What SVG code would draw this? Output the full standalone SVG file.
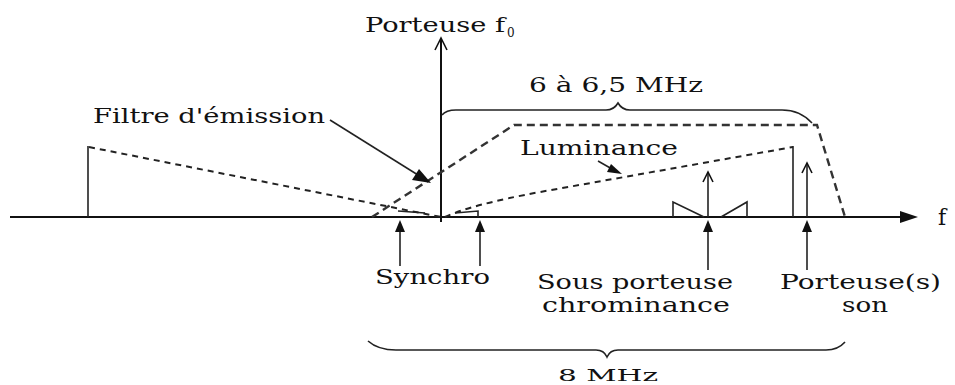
<svg xmlns="http://www.w3.org/2000/svg" width="955" height="385" viewBox="0 0 955 385">
<style>
.t{font-family:"DejaVu Serif","Liberation Serif",serif;font-size:20px;fill:#111;}
.ln{stroke:#111;stroke-width:2;fill:none;}
.thin{stroke:#222;stroke-width:1.6;fill:none;}
.dash{stroke:#222;stroke-width:2;fill:none;stroke-dasharray:6,5;}
.fdash{stroke:#333;stroke-width:2.4;fill:none;stroke-dasharray:8,5;}
.head{fill:#111;stroke:none;}
.ohead{fill:none;stroke:#111;stroke-width:1.6;}
</style>
<rect width="955" height="385" fill="#fff"/>

<g id="axes">
<line class="ln" x1="10" y1="217" x2="902" y2="217"/>
<polygon class="head" points="918,217 900,211 900,223"/>
<line class="ln" x1="441" y1="222" x2="441" y2="39"/>
<polyline class="ohead" points="435,50 441,38 447,50"/>
</g>

<g id="spectrum">
<line class="thin" x1="88" y1="146" x2="88" y2="217"/>
<line class="dash" x1="89" y1="147" x2="441" y2="217"/>
<path class="dash" d="M445,217 Q470,205 540,192 L793,147"/>
<line class="thin" x1="793" y1="146" x2="793" y2="217"/>
<polyline class="fdash" points="372,217 514,125 817,125 845,217"/>
<polyline class="thin" points="673,217 673,202 704,217"/>
<polyline class="thin" points="721,217 747,202 747,217"/>
<line class="thin" x1="398" y1="211" x2="425" y2="213"/>
<polyline class="thin" points="455,213 478,211 478,217"/>
<line class="thin" x1="708" y1="217" x2="708" y2="172"/>
<polyline class="ohead" points="703,182 708,172 713,182"/>
<line class="thin" x1="807" y1="217" x2="807" y2="163"/>
<polyline class="ohead" points="802,173 807,163 812,173"/>
</g>

<g id="braces">
<path class="thin" d="M442,115 Q446,110 456,110 L606,110 Q614,110 618,103 Q622,110 630,110 L782,110 Q800,110 812,123"/>
<path class="thin" d="M368,341 Q378,350 396,350 L596,350 Q604,350 607,357 Q610,350 618,350 L826,350 Q838,350 845,342"/>
</g>

<g id="connectors">
<line class="thin" x1="330" y1="120" x2="418" y2="175" stroke-width="1.8"/>
<polygon class="head" points="431,183 412,180 419,169"/>
<line class="thin" x1="598" y1="161" x2="612" y2="169" stroke-width="1.8"/>
<polygon class="head" points="622,174 607,172 611,164"/>
<line class="thin" x1="400" y1="266" x2="400" y2="230" stroke-width="1.8"/>
<polygon class="head" points="400,220 395,232 405,232"/>
<line class="thin" x1="480" y1="266" x2="480" y2="230" stroke-width="1.8"/>
<polygon class="head" points="480,220 475,232 485,232"/>
<line class="thin" x1="708" y1="270" x2="708" y2="230" stroke-width="1.8"/>
<polygon class="head" points="708,220 703,232 713,232"/>
<line class="thin" x1="807" y1="270" x2="807" y2="230" stroke-width="1.8"/>
<polygon class="head" points="807,220 802,232 812,232"/>
</g>

<g id="labels">
<text class="t" x="365" y="32" textLength="140" lengthAdjust="spacingAndGlyphs">Porteuse f</text>
<text class="t" x="507" y="37" style="font-size:12px">0</text>
<text class="t" x="529" y="92" textLength="174" lengthAdjust="spacingAndGlyphs">6 à 6,5 MHz</text>
<text class="t" x="93" y="123" textLength="232" lengthAdjust="spacingAndGlyphs">Filtre d'émission</text>
<text class="t" x="520" y="155" textLength="158" lengthAdjust="spacingAndGlyphs">Luminance</text>
<text class="t" x="375" y="284" textLength="115" lengthAdjust="spacingAndGlyphs">Synchro</text>
<text class="t" x="537" y="289" textLength="196" lengthAdjust="spacingAndGlyphs">Sous porteuse</text>
<text class="t" x="542" y="312" textLength="188" lengthAdjust="spacingAndGlyphs">chrominance</text>
<text class="t" x="780" y="289" textLength="161" lengthAdjust="spacingAndGlyphs">Porteuse(s)</text>
<text class="t" x="842" y="312" textLength="46" lengthAdjust="spacingAndGlyphs">son</text>
<text class="t" x="558" y="381" style="font-size:17px" textLength="100" lengthAdjust="spacingAndGlyphs">8 MHz</text>
<text class="t" x="938" y="225" style="font-size:22px">f</text>
</g>
</svg>
